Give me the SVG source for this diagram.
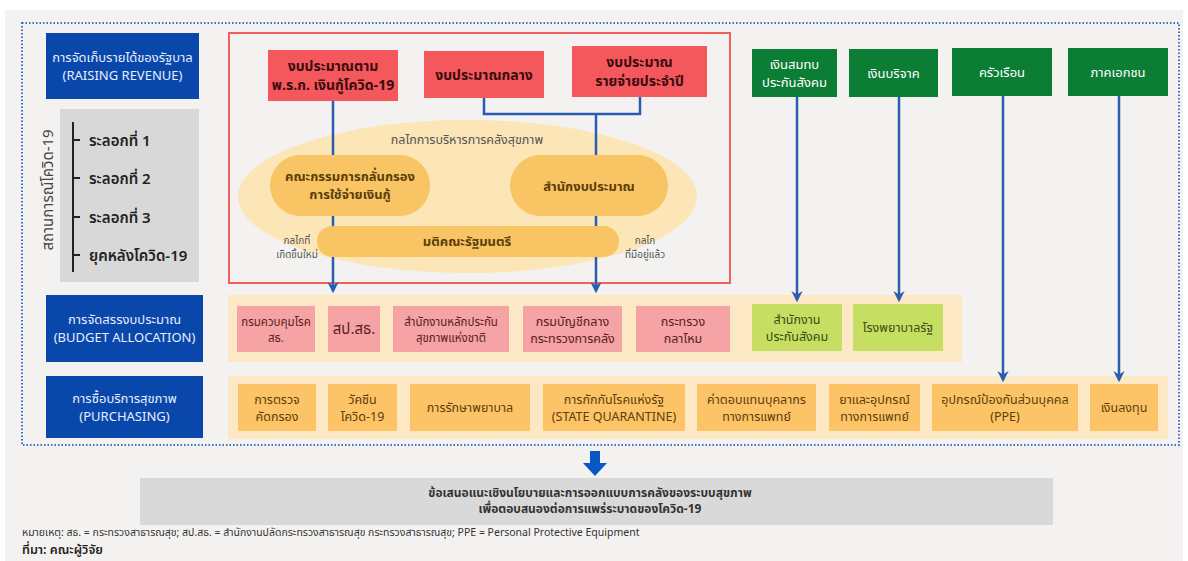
<svg xmlns="http://www.w3.org/2000/svg" width="1188" height="561" viewBox="0 0 1188 561">
<defs>
<style>
text{font-family:"Noto Sans Thai","Noto Sans","Liberation Sans",sans-serif;text-anchor:middle}
.blue{fill:#0a47ab}
.bt{fill:#e6eeff;font-size:13px}
.red{fill:#f4585c}
.rt{fill:#3a0d0d;font-size:14px;font-weight:bold}
.grn{fill:#0b7d34}
.gt{fill:#ffffff;font-size:13px}
.pink{fill:#f5a3a5}
.pt{fill:#5a2020;font-size:11.5px}
.lime{fill:#c6df63}
.lt{fill:#3c4a12;font-size:12.5px}
.org{fill:#fcc466}
.ot{fill:#5c3d0c;font-size:12.5px}
.pill{fill:#f9c463}
.pilt{fill:#5a3d0a;font-size:13px;font-weight:bold}
.band{fill:#fde8c6}
.wave{fill:#222;font-size:15px;font-weight:600;text-anchor:start}
.small{fill:#555;font-size:10px}
.conn{fill:none;stroke:#2a5db0;stroke-width:2.5}
</style>
<marker id="ah" viewBox="0 0 10 10" refX="8" refY="5" markerWidth="4.5" markerHeight="4.5" orient="auto" markerUnits="strokeWidth">
<path d="M0,0 L10,5 L0,10 L3,5 Z" fill="#2a5db0"/>
</marker>
</defs>
<rect x="0" y="0" width="1188" height="561" fill="#ffffff"/>
<rect x="5" y="10" width="1178" height="551" fill="#f3f2f1"/>
<rect x="22" y="23" width="1157" height="422" fill="none" stroke="#3a6fc4" stroke-width="2" stroke-dasharray="1.5 2"/>

<g id="raising-revenue">
<rect class="blue" x="46" y="33" width="153" height="66"/>
<text class="bt" x="122.5" y="62">การจัดเก็บรายได้ของรัฐบาล</text>
<text class="bt" x="122.5" y="80">(RAISING REVENUE)</text>
</g>

<g id="covid-situation">
<rect x="60" y="109" width="139" height="173" fill="#d8d8d8"/>
<text transform="translate(48,190) rotate(-90)" fill="#444" font-size="15" dy="5">สถานการณ์โควิด-19</text>
<line x1="73" y1="122" x2="73" y2="272" stroke="#222" stroke-width="2"/>
<path d="M73,140 H80 M73,178 H80 M73,217 H80 M73,255 H80" stroke="#222" stroke-width="2"/>
<text class="wave" x="89" y="146">ระลอกที่ 1</text>
<text class="wave" x="89" y="184">ระลอกที่ 2</text>
<text class="wave" x="89" y="223">ระลอกที่ 3</text>
<text class="wave" x="89" y="261">ยุคหลังโควิด-19</text>
</g>

<g id="mechanism-frame">
<rect x="229" y="33" width="501" height="250" fill="none" stroke="#f06060" stroke-width="2"/>
</g>

<g id="health-finance-mechanism">
<ellipse cx="467.5" cy="196.5" rx="229.5" ry="76.5" fill="#fce5b6"/>
<text class="small" x="467" y="144" style="font-size:12.5px">กลไกการบริหารการคลังสุขภาพ</text>
</g>

<g id="allocation-band"><rect class="band" x="228" y="295" width="734" height="67"/></g>
<g id="purchasing-band"><rect class="band" x="228" y="376" width="940" height="63"/></g>

<g id="connectors">
<path class="conn" d="M333,101 V291" marker-end="url(#ah)"/>
<path class="conn" d="M484,98 V114 H640 V97"/>
<path class="conn" d="M596,114 V291" marker-end="url(#ah)"/>
<path class="conn" d="M797,97 V300" marker-end="url(#ah)"/>
<path class="conn" d="M899,97 V300" marker-end="url(#ah)"/>
<path class="conn" d="M1003,96 V380" marker-end="url(#ah)"/>
<path class="conn" d="M1119,96 V380" marker-end="url(#ah)"/>
</g>

<g id="screening-committee">
<rect class="pill" x="270" y="155" width="160" height="61" rx="30.5"/>
<text class="pilt" x="350" y="181">คณะกรรมการกลั่นกรอง</text>
<text class="pilt" x="350" y="199">การใช้จ่ายเงินกู้</text>
</g>
<g id="budget-bureau">
<rect class="pill" x="510" y="155" width="158" height="61" rx="30.5"/>
<text class="pilt" x="589" y="191">สำนักงบประมาณ</text>
</g>
<g id="cabinet-resolution">
<rect class="pill" x="317" y="226" width="302" height="31" rx="15.5"/>
<text class="pilt" x="467" y="246">มติคณะรัฐมนตรี</text>
</g>
<g id="new-mechanism-label">
<text class="small" x="297" y="244">กลไกที่</text>
<text class="small" x="297" y="258">เกิดขึ้นใหม่</text>
</g>
<g id="existing-mechanism-label">
<text class="small" x="645" y="244">กลไก</text>
<text class="small" x="645" y="258">ที่มีอยู่แล้ว</text>
</g>

<g id="loan-budget">
<rect class="red" x="268" y="50" width="130" height="51"/>
<text class="rt" x="333" y="71">งบประมาณตาม</text>
<text class="rt" x="333" y="90">พ.ร.ก. เงินกู้โควิด-19</text>
</g>
<g id="central-budget">
<rect class="red" x="424" y="51" width="120" height="47"/>
<text class="rt" x="484" y="80">งบประมาณกลาง</text>
</g>
<g id="annual-budget">
<rect class="red" x="572" y="46" width="135" height="51"/>
<text class="rt" x="639.5" y="67">งบประมาณ</text>
<text class="rt" x="639.5" y="86">รายจ่ายประจำปี</text>
</g>

<g id="social-security-contribution">
<rect class="grn" x="752" y="49" width="85" height="48"/>
<text class="gt" x="794.5" y="69">เงินสมทบ</text>
<text class="gt" x="794.5" y="87">ประกันสังคม</text>
</g>
<g id="donation">
<rect class="grn" x="849" y="49" width="89" height="48"/>
<text class="gt" x="893.5" y="78">เงินบริจาค</text>
</g>
<g id="household">
<rect class="grn" x="952" y="48" width="100" height="48"/>
<text class="gt" x="1002" y="77">ครัวเรือน</text>
</g>
<g id="private-sector">
<rect class="grn" x="1068" y="48" width="100" height="48"/>
<text class="gt" x="1118" y="77">ภาคเอกชน</text>
</g>

<g id="budget-allocation">
<rect class="blue" x="46" y="295" width="157" height="67"/>
<text class="bt" x="124.5" y="324">การจัดสรรงบประมาณ</text>
<text class="bt" x="124.5" y="342">(BUDGET ALLOCATION)</text>
</g>
<g id="ddc">
<rect class="pink" x="237" y="306" width="78" height="46"/>
<text class="pt" x="276" y="326">กรมควบคุมโรค</text>
<text class="pt" x="276" y="342">สธ.</text>
</g>
<g id="ops-moph">
<rect class="pink" x="328" y="306" width="52" height="46"/>
<text class="pt" x="354" y="334" style="font-size:15px">สป.สธ.</text>
</g>
<g id="nhso">
<rect class="pink" x="393" y="306" width="116" height="46"/>
<text class="pt" x="451" y="326">สำนักงานหลักประกัน</text>
<text class="pt" x="451" y="342">สุขภาพแห่งชาติ</text>
</g>
<g id="cgd">
<rect class="pink" x="523" y="306" width="99" height="46"/>
<text class="pt" x="572.5" y="326" style="font-size:12.5px">กรมบัญชีกลาง</text>
<text class="pt" x="572.5" y="343" style="font-size:12.5px">กระทรวงการคลัง</text>
</g>
<g id="mod">
<rect class="pink" x="636" y="306" width="94" height="46"/>
<text class="pt" x="683" y="326" style="font-size:12.5px">กระทรวง</text>
<text class="pt" x="683" y="343" style="font-size:12.5px">กลาโหม</text>
</g>
<g id="sso">
<rect class="lime" x="752" y="304" width="90" height="47"/>
<text class="lt" x="797" y="324">สำนักงาน</text>
<text class="lt" x="797" y="341">ประกันสังคม</text>
</g>
<g id="public-hospital">
<rect class="lime" x="853" y="304" width="90" height="47"/>
<text class="lt" x="898" y="332">โรงพยาบาลรัฐ</text>
</g>

<g id="purchasing">
<rect class="blue" x="46" y="376" width="157" height="62"/>
<text class="bt" x="124.5" y="403">การซื้อบริการสุขภาพ</text>
<text class="bt" x="124.5" y="421">(PURCHASING)</text>
</g>
<g id="screening">
<rect class="org" x="238" y="384" width="78" height="47"/>
<text class="ot" x="277" y="404">การตรวจ</text>
<text class="ot" x="277" y="421">คัดกรอง</text>
</g>
<g id="vaccine">
<rect class="org" x="328" y="384" width="69" height="47"/>
<text class="ot" x="362.5" y="404">วัคซีน</text>
<text class="ot" x="362.5" y="421">โควิด-19</text>
</g>
<g id="treatment">
<rect class="org" x="410" y="384" width="120" height="47"/>
<text class="ot" x="470" y="412">การรักษาพยาบาล</text>
</g>
<g id="state-quarantine">
<rect class="org" x="543" y="384" width="142" height="47"/>
<text class="ot" x="614" y="404">การกักกันโรคแห่งรัฐ</text>
<text class="ot" x="614" y="421">(STATE QUARANTINE)</text>
</g>
<g id="staff-compensation">
<rect class="org" x="697" y="384" width="119" height="47"/>
<text class="ot" x="756.5" y="404">ค่าตอบแทนบุคลากร</text>
<text class="ot" x="756.5" y="421">ทางการแพทย์</text>
</g>
<g id="medicine-equipment">
<rect class="org" x="829" y="384" width="91" height="47"/>
<text class="ot" x="874.5" y="404">ยาและอุปกรณ์</text>
<text class="ot" x="874.5" y="421">ทางการแพทย์</text>
</g>
<g id="ppe">
<rect class="org" x="932" y="384" width="146" height="47"/>
<text class="ot" x="1005" y="404">อุปกรณ์ป้องกันส่วนบุคคล</text>
<text class="ot" x="1005" y="421">(PPE)</text>
</g>
<g id="investment">
<rect class="org" x="1090" y="384" width="68" height="47"/>
<text class="ot" x="1124" y="412">เงินลงทุน</text>
</g>

<g id="output-arrow">
<path d="M590,451 H600 V463 H607 L595,476 L583,463 H590 Z" fill="#0a56c4"/>
</g>
<g id="policy-recommendation">
<rect x="140" y="478" width="913" height="47" fill="#d9d9d9"/>
<text x="590" y="497" fill="#333" style="font-size:12px;font-weight:bold">ข้อเสนอแนะเชิงนโยบายและการออกแบบการคลังของระบบสุขภาพ</text>
<text x="590" y="513" fill="#333" style="font-size:12px;font-weight:bold">เพื่อตอบสนองต่อการแพร่ระบาดของโควิด-19</text>
</g>
<text x="22" y="536" fill="#333" style="font-size:10.5px;text-anchor:start">หมายเหตุ: สธ. = กระทรวงสาธารณสุข; สป.สธ. = สำนักงานปลัดกระทรวงสาธารณสุข กระทรวงสาธารณสุข; PPE = Personal Protective Equipment</text>
<text x="22" y="554" fill="#222" style="font-size:12.5px;font-weight:600;text-anchor:start">ที่มา: คณะผู้วิจัย</text>
</svg>
